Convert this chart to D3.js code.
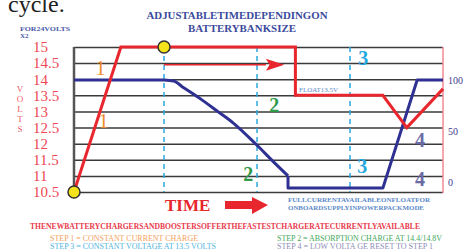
<!DOCTYPE html>
<html>
<head>
<meta charset="utf-8">
<script src="https://cdn.jsdelivr.net/npm/d3@7"></script>
<style>
  body { margin: 0; background: #fff; }
  text { font-family: "Liberation Serif", "Times New Roman", serif; }
</style>
</head>
<body>
<div id="chart"></div>
<script>
// data
var voltTicks = [10.5, 11, 11.5, 12, 12.5, 13, 13.5, 14, 14.5, 15];
var pctTicks = [0, 50, 100];
var voltTime = [0, 1.27, 6.0, 6.0, 8.37, 9.02, 10];
var voltValues = [10.5, 15, 15, 13.5, 13.5, 12.5, 13.7];
var ampTime = [0, 2.44, 2.7, 2.95, 3.41, 3.9, 4.31, 4.96, 5.4, 5.8, 5.8, 8.37, 9.3, 10];
var ampValues = [100, 100, 99, 93, 82, 69, 58, 36, 20, 6, -6, -6, 100, 100];
var phaseTimes = [2.44, 4.96, 7.48];
var stepMarks = ["1", "1", "2", "2", "3", "3", "4", "4"];
var stepTime = [0.72, 0.8, 5.43, 4.72, 7.84, 7.81, 9.38, 9.38];
var stepVolt = [14.35, 12.7, 13.2, 11.05, 14.65, 11.3, 12.1, 10.9];
var steps = [
  "STEP 1 = CONSTANT  CURRENT  CHARGE",
  "STEP 3 = CONSTANT  VOLTAGE  AT 13.5 VOLTS",
  "STEP 2 = ABSORPTION  CHARGE AT 14.4/14.8V",
  "STEP 4 = LOW VOLTA GE  RESET  TO STEP 1"
];

var svgWidth = 464, svgHeight = 252;
var margin = {top: 47, right: 21, bottom: 60, left: 74};
var width = svgWidth - margin.left - margin.right;
var height = svgHeight - margin.top - margin.bottom;

var svg = d3.select("#chart").append("svg")
  .attr("width", svgWidth)
  .attr("height", svgHeight);

var markColors = {"1": "#f08a2c", "2": "#2f9a4a", "3": "#26a9e0", "4": "#6b6ba6"};

var x = d3.scaleLinear().domain([0, 10]).range([0, width]);
var yV = d3.scaleLinear().domain([10.5, 15]).range([height, 0]);
var yP = d3.scaleLinear().domain([0, 100]).range([135, 33]);

// page text behind the chart
svg.append("text").attr("x", 8).attr("y", 12)
  .style("font-size", "24px").attr("fill", "#222").text("cycle.");

svg.append("text").attr("x", 237).attr("y", 19)
  .attr("text-anchor", "middle").attr("textLength", 181).attr("lengthAdjust", "spacingAndGlyphs")
  .style("font-size", "10px").style("font-weight", "bold").attr("fill", "#3b4a9c")
  .text("ADJUSTABLETIMEDEPENDINGON");
svg.append("text").attr("x", 242).attr("y", 32)
  .attr("text-anchor", "middle").attr("textLength", 108).attr("lengthAdjust", "spacingAndGlyphs")
  .style("font-size", "10px").style("font-weight", "bold").attr("fill", "#3b4a9c")
  .text("BATTERYBANKSIZE");

svg.append("text").attr("x", 20).attr("y", 31)
  .attr("textLength", 50).attr("lengthAdjust", "spacingAndGlyphs")
  .style("font-size", "7px").style("font-weight", "bold").attr("fill", "#4a5aa8").text("FOR24VOLTS");
svg.append("text").attr("x", 20).attr("y", 38)
  .style("font-size", "7px").style("font-weight", "bold").attr("fill", "#4a5aa8").text("X2");

// vertical VOLTS
svg.append("g").selectAll("text").data("VOLTS".split(""))
  .enter().append("text")
  .attr("x", 20).attr("y", (d, i) => 92 + i * 10)
  .attr("text-anchor", "middle")
  .style("font-size", "9px").attr("fill", "#ee5a66")
  .text(d => d);

var chartGroup = svg.append("g")
  .attr("transform", `translate(${margin.left}, ${margin.top})`);

// gridlines + left labels
var leftAxis = d3.axisLeft(yV).tickValues(voltTicks)
  .tickSizeInner(-width).tickSizeOuter(0).tickFormat(d3.format("~g"));
var gLeft = chartGroup.append("g").call(leftAxis);
gLeft.select(".domain").remove();
gLeft.selectAll(".tick line").attr("stroke", "#3a3a3a").attr("stroke-width", 1.5);
gLeft.selectAll(".tick text")
  .attr("x", -41).attr("text-anchor", "start")
  .style("font-size", "15px").attr("fill", "#ee4a55");

chartGroup.append("line")
  .attr("x1", 0).attr("x2", 0).attr("y1", 0).attr("y2", height)
  .attr("stroke", "#555").attr("stroke-width", 2.5);

// right axis
chartGroup.append("line")
  .attr("x1", width).attr("x2", width).attr("y1", 0).attr("y2", height + 1)
  .attr("stroke", "#f08a94").attr("stroke-width", 1.5);
var rightAxis = d3.axisRight(yP).tickValues(pctTicks).tickSize(0).tickPadding(5);
var gRight = chartGroup.append("g").attr("transform", `translate(${width},0)`).call(rightAxis);
gRight.select(".domain").remove();
gRight.selectAll(".tick text").style("font-size", "10px").attr("fill", "#3d3d8f");

// phase dividers
chartGroup.selectAll(".phase").data(phaseTimes).enter().append("line")
  .attr("x1", d => x(d)).attr("x2", d => x(d)).attr("y1", 0).attr("y2", height)
  .attr("stroke", "#2aa8e0").attr("stroke-width", 1.5).attr("stroke-dasharray", "5,4");

// current line: straight parts + smooth taper during absorption
var ampPts = ampTime.map((t, i) => [t, ampValues[i]]);
var ampLine = d3.line().x(d => x(d[0])).y(d => yP(d[1]));
var ampCurve = d3.line().x(d => x(d[0])).y(d => yP(d[1])).curve(d3.curveMonotoneX);
chartGroup.append("path").datum(ampPts.slice(0, 2))
  .attr("d", ampLine).attr("fill", "none")
  .attr("stroke", "#2e3192").attr("stroke-width", 3);
chartGroup.append("path").datum(ampPts.slice(1, 10))
  .attr("d", ampCurve).attr("fill", "none")
  .attr("stroke", "#2e3192").attr("stroke-width", 3);
chartGroup.append("path").datum(ampPts.slice(9))
  .attr("d", ampLine).attr("fill", "none")
  .attr("stroke", "#2e3192").attr("stroke-width", 3).attr("stroke-linejoin", "round");

// voltage line
var voltLine = d3.line().x((d, i) => x(voltTime[i])).y(d => yV(d));
chartGroup.append("path").datum(voltValues)
  .attr("d", voltLine).attr("fill", "none")
  .attr("stroke", "#e8262d").attr("stroke-width", 3);

// red arrow along the absorption phase
var ay = yV(14.45);
chartGroup.append("line")
  .attr("x1", x(phaseTimes[0])).attr("x2", x(5.2)).attr("y1", ay).attr("y2", ay)
  .attr("stroke", "#e8262d").attr("stroke-width", 1.5);
chartGroup.append("path")
  .attr("d", `M${x(5.2)},${ay - 6}L${x(5.7)},${ay}L${x(5.2)},${ay + 6}L${x(5.3)},${ay}Z`)
  .attr("fill", "#e8262d");

// yellow markers
chartGroup.selectAll(".dot").data([[0, 10.5], [phaseTimes[0], 15]]).enter().append("circle")
  .attr("cx", d => x(d[0])).attr("cy", d => yV(d[1])).attr("r", 6)
  .attr("fill", "#f4e21a").attr("stroke", "#333").attr("stroke-width", 1.5);

// step numbers
chartGroup.selectAll(".step").data(stepMarks).enter().append("text")
  .attr("x", (d, i) => x(stepTime[i])).attr("y", (d, i) => yV(stepVolt[i]))
  .attr("text-anchor", "middle").attr("dy", "0.35em")
  .style("font-size", "20px").style("font-weight", d => d === "1" ? "normal" : "bold")
  .attr("fill", d => markColors[d])
  .text(d => d);

chartGroup.append("text")
  .attr("x", x(6.1)).attr("y", yV(13.6))
  .style("font-size", "7px").attr("fill", "#5d8ac9").text("FLOAT13.5V");

// TIME + big arrow
svg.append("text").attr("x", 165).attr("y", 211)
  .style("font-size", "17px").style("font-weight", "bold").attr("fill", "#e8262d").text("TIME");
svg.append("path")
  .attr("d", "M225,201L252,201L252,197L268,205L252,214L252,209L225,209Z")
  .attr("fill", "#e8262d");

svg.append("text").attr("x", 288).attr("y", 202)
  .attr("textLength", 142).attr("lengthAdjust", "spacingAndGlyphs")
  .style("font-size", "7px").style("font-weight", "bold").attr("fill", "#5d8ac9")
  .text("FULLCURRENTAVAILABLEONFLOATFOR");
svg.append("text").attr("x", 288).attr("y", 210)
  .attr("textLength", 136).attr("lengthAdjust", "spacingAndGlyphs")
  .style("font-size", "7px").style("font-weight", "bold").attr("fill", "#5d8ac9")
  .text("ONBOARDSUPPLYINPOWERPACKMODE");

svg.append("text").attr("x", 30).attr("y", 229)
  .attr("textLength", 390).attr("lengthAdjust", "spacingAndGlyphs")
  .style("font-size", "7.5px").style("font-weight", "bold").attr("fill", "#e8394a")
  .text("THENEWBATTERYCHARGERSANDBOOSTERSOFFERTHEFASTESTCHARGERATECURRENTLYAVAILABLE");

var stepColors = ["#f4a15c", "#4fb3e0", "#43a85a", "#8c8cb8"];
var stepX = [50, 50, 277, 277];
var stepY = [241, 249, 241, 249];
var stepLen = [148, 166, 165, 156];
svg.append("g").selectAll("text").data(steps).enter().append("text")
  .attr("x", (d, i) => stepX[i]).attr("y", (d, i) => stepY[i])
  .attr("textLength", (d, i) => stepLen[i]).attr("lengthAdjust", "spacingAndGlyphs")
  .style("font-size", "7.5px").attr("fill", (d, i) => stepColors[i])
  .text(d => d);
</script>
</body>
</html>
